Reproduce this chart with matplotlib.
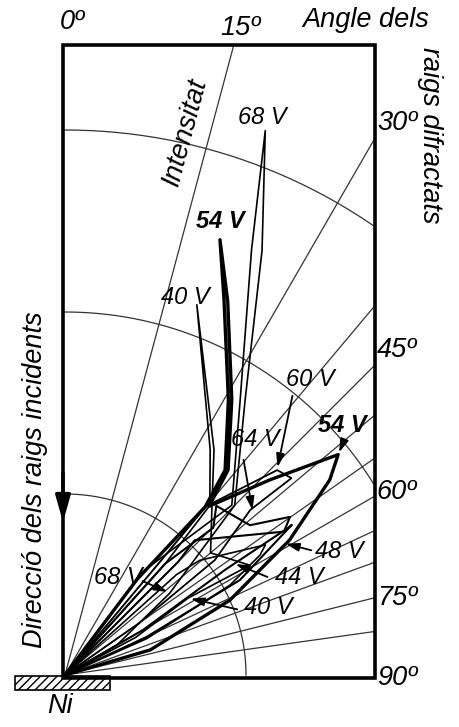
import numpy as np
import matplotlib
matplotlib.use("Agg")
import matplotlib.pyplot as plt
from matplotlib.patches import Rectangle

# polar data along each curve: angle (deg from incident direction), intensity (px units)
th_68 = [0, 37, 44.5, 32.5, 23.7, 20.2, 24.9, 33.2, 45, 52, 60, 90]
r_68 = [0, 130, 238, 326, 464, 580, 468, 329, 240, 133, 60, 0]
th_54 = [0, 37, 39.8, 38, 30.7, 23, 19.6, 23.5, 31.2, 38.5, 40.5, 46.4, 51.1, 53.6, 59, 65.6, 73.6, 90]
r_54 = [0, 120, 219, 260, 320, 407, 462, 408, 322, 262, 222, 283, 351, 329, 262, 181, 89, 0]
th_40 = [0, 42, 40.5, 32.8, 19.6, 33.5, 41, 50, 59.3, 58, 62, 90]
r_40 = [0, 150, 223, 268, 393, 270, 224, 190, 215, 145, 80, 0]
th_60 = [0, 40, 39.8, 46, 49, 48.3, 52.5, 55, 90]
r_60 = [0, 150, 219, 295, 300, 248, 189, 90, 0]
th_64 = [0, 42, 45.2, 41.8, 51, 54.9, 56.6, 56.7, 60, 90]
r_64 = [0, 150, 209, 227, 238, 275, 263, 191, 90, 0]
th_48 = [0, 45, 43.9, 56.7, 56.5, 61.5, 65, 90]
r_48 = [0, 160, 187, 261, 272, 199, 90, 0]
th_44 = [0, 48, 49.6, 57, 58.4, 61.4, 66, 90]
r_44 = [0, 150, 177, 239, 229, 188, 90, 0]
curves = [(th_68, r_68, 1.2), (th_54, r_54, 2.4), (th_40, r_40, 1.2), (th_60, r_60, 1.3),
          (th_64, r_64, 1.5), (th_48, r_48, 1.5), (th_44, r_44, 1.2)]
grid_angles = [15, 30, 40, 45, 50, 55, 60, 65, 70, 76, 82]
arc_radii = [181, 363, 545]
angle_labels = ["0º", "15º", "30º", "45º", "60º", "75º", "90º"]

fig = plt.figure(figsize=(4.6, 7.27), dpi=100)
ax = fig.add_axes([0, 0, 1, 1])
ax.set_xlim(-65, 395)
ax.set_ylim(-52, 675)
ax.axis('off')
plt.rcParams['font.family'] = ['Liberation Sans', 'DejaVu Sans']

frame = Rectangle((-2, -3), 312, 633, fill=False, lw=2.6, color='black', zorder=5)
clip = Rectangle((-2, -3), 312, 633, transform=ax.transData)
ax.add_patch(frame)

for a in grid_angles:
    t = np.radians(a)
    l, = ax.plot([0, 900*np.sin(t)], [0, 900*np.cos(t)], color='#333', lw=0.9)
    l.set_clip_path(clip)
tt = np.radians(np.linspace(0, 90, 200))
for R in arc_radii:
    l, = ax.plot(R*np.sin(tt), R*np.cos(tt), color='#333', lw=0.9)
    l.set_clip_path(clip)

for th, r, lw in curves:
    t = np.radians(th); r = np.array(r)
    l, = ax.plot(r*np.sin(t), r*np.cos(t), color='black', lw=lw, solid_joinstyle='round')
    l.set_clip_path(clip)

def P(x, y):
    return (x-65, 675-y)

fs = 19.5
kw = dict(fontsize=fs, style='italic', ha='center', va='center')
for lab, pos in zip(angle_labels, [(72, 22), (240, 28), (397, 123), (397, 350), (397, 492), (397, 598), (397, 678)]):
    ax.text(*P(*pos), lab, **kw)
ax.text(*P(366, 20), "Angle dels", **kw)
ax.text(*P(430, 135), "raigs difractats", rotation=-90, **kw)
ax.text(*P(185, 132), "Intensitat", rotation=75, **kw)
ax.text(*P(35, 480), "Direcció dels raigs incidents", rotation=90, **kw)
ax.text(*P(60, 706), "Ni", **kw)
ax.add_patch(Rectangle(P(15, 690), 95, 14, fill=False, hatch='////', lw=1.2, zorder=6))
ax.annotate("", xy=P(63, 525), xytext=P(63, 470),
            arrowprops=dict(arrowstyle='-|>,head_width=0.45,head_length=1.6', color='black', lw=2.5), zorder=7)

vk = dict(fontsize=17, style='italic', ha='center', va='center')
labels = [("68 V", (262, 117), None), ("40 V", (185, 298), None),
          ("60 V", (310, 380), ((293, 393), (277, 470))), ("64 V", (255, 440), ((243, 457), (253, 513))),
          ("48 V", (339, 552), ((314, 551), (283, 543))), ("44 V", (299, 578), ((270, 578), (233, 563))),
          ("68 V", (118, 577), ((140, 580), (170, 593))), ("40 V", (268, 608), ((240, 610), (188, 598)))]
for txt, pos, arr in labels:
    ax.text(*P(*pos), txt, **vk)
    if arr:
        ax.annotate("", xy=P(*arr[1]), xytext=P(*arr[0]),
                    arrowprops=dict(arrowstyle='-|>,head_width=0.25,head_length=0.8', color='black', lw=1.3))
ax.text(*P(220, 222), "54 V", fontweight='bold', **vk)
ax.text(*P(342, 425), "54 V", fontweight='bold', **vk)
ax.annotate("", xy=P(338, 455), xytext=P(345, 438),
            arrowprops=dict(arrowstyle='-|>,head_width=0.25,head_length=0.8', color='black', lw=1.3))

fig.savefig("out.png", dpi=100)
